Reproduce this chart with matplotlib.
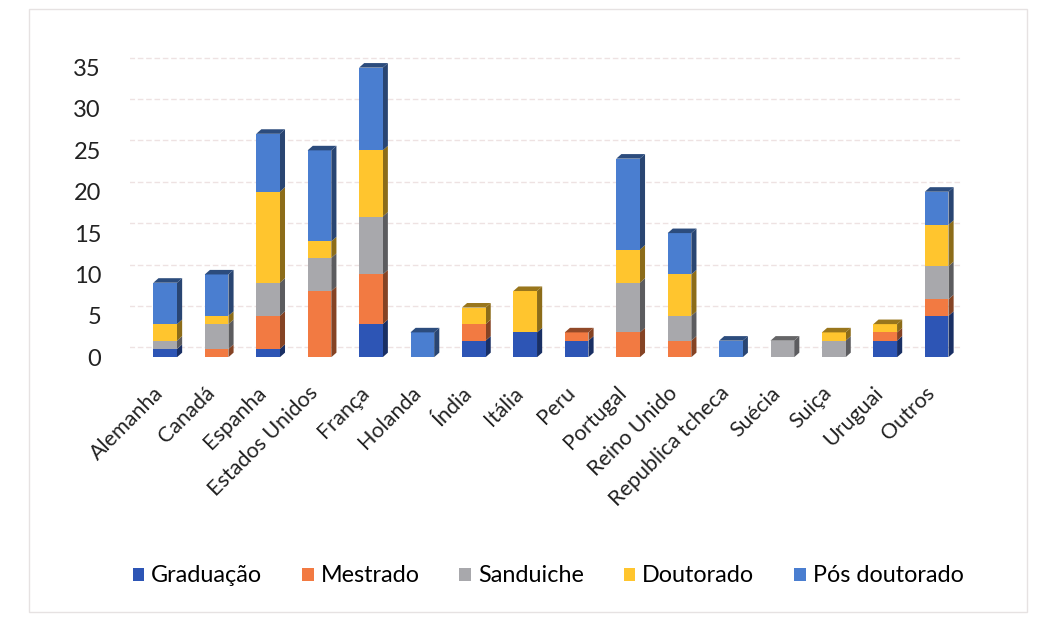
import matplotlib
matplotlib.use("Agg")
import matplotlib.pyplot as plt
from matplotlib.patches import Polygon, Patch
import matplotlib.transforms as mtransforms
import numpy as np

categories = ["Alemanha", "Canadá", "Espanha", "Estados Unidos", "França", "Holanda",
              "Índia", "Itália", "Peru", "Portugal", "Reino Unido", "Republica tcheca",
              "Suécia", "Suiça", "Uruguai", "Outros"]
graduacao    = [1, 0, 1, 0, 4, 0, 2, 3, 2, 0, 0, 0, 0, 0, 2, 5]
mestrado     = [0, 1, 4, 8, 6, 0, 2, 0, 1, 3, 2, 0, 0, 0, 1, 2]
sanduiche    = [1, 3, 4, 4, 7, 0, 0, 0, 0, 6, 3, 0, 2, 2, 0, 4]
doutorado    = [2, 1, 11, 2, 8, 0, 2, 5, 0, 4, 5, 0, 0, 1, 1, 5]
pos_doutorado = [5, 5, 7, 11, 10, 3, 0, 0, 0, 11, 5, 2, 0, 0, 0, 4]

series_names = ["Graduação", "Mestrado", "Sanduiche", "Doutorado", "Pós doutorado"]
series = [graduacao, mestrado, sanduiche, doutorado, pos_doutorado]
colors = ["#2D55B5", "#F27A42", "#A8A8AC", "#FFC52E", "#4A7ED0"]

def darken(c, f):
    r, g, b = matplotlib.colors.to_rgb(c)
    return (r * f, g * f, b * f)

plt.rcParams['font.family'] = ['Lato', 'DejaVu Sans']

fig = plt.figure(figsize=(10.5, 6.18), dpi=100)
ax = fig.add_axes([0.124, 0.422, 0.795, 0.49])

x = np.arange(len(categories))
w = 0.46
ddx = 0.10   # depth in x (data units)
ddy = 0.55   # depth in y (data units)

ax.set_xlim(-0.68, len(categories) - 0.45)
ax.set_ylim(0, 36.6)

# gridlines (back wall, slightly raised)
for v in range(0, 40, 5):
    ax.plot([-0.7, len(categories) - 0.5], [v + 1.2, v + 1.2], color="#eee2e2",
            lw=1.0, ls=(0, (4, 2)), zorder=0)

bottoms = np.zeros(len(categories))
for vals, col in zip(series, colors):
    vals = np.array(vals, dtype=float)
    for i in range(len(categories)):
        if vals[i] <= 0:
            continue
        x1 = x[i] + w / 2
        b = bottoms[i]
        t = b + vals[i]
        ax.add_patch(Polygon([[x1, b], [x1 + ddx, b + ddy], [x1 + ddx, t + ddy], [x1, t]],
                             closed=True, facecolor=darken(col, 0.55), edgecolor='none', zorder=2))
    ax.bar(x, vals, w, bottom=bottoms, color=col, edgecolor='none', zorder=3)
    bottoms += vals

for i in range(len(categories)):
    top_col = colors[0]
    for vals, col in zip(series, colors):
        if vals[i] > 0:
            top_col = col
    x0 = x[i] - w / 2
    x1 = x[i] + w / 2
    t = bottoms[i]
    ax.add_patch(Polygon([[x0, t], [x0 + ddx, t + ddy], [x1 + ddx, t + ddy], [x1, t]],
                         closed=True, facecolor=darken(top_col, 0.6), edgecolor='none', zorder=4))

ax.set_yticks(range(0, 40, 5))
ax.set_yticklabels([str(v) for v in range(0, 40, 5)], fontsize=17, color="#222222")
ax.set_xticks(x)
ax.set_xticklabels(categories, rotation=45, ha='right', rotation_mode='anchor',
                   fontsize=15.5, color="#222222")
ax.tick_params(axis='x', length=0, pad=20)
ax.tick_params(axis='y', length=0, pad=21)
offset = mtransforms.ScaledTranslation(-12 / 100, 2 / 100, fig.dpi_scale_trans)
for lab in ax.get_xticklabels():
    lab.set_transform(lab.get_transform() + offset)
for s in ax.spines.values():
    s.set_visible(False)

handles = [Patch(facecolor=c, edgecolor='none') for c in colors]
fig.legend(handles, series_names, loc='center', bbox_to_anchor=(0.522, 0.068), ncol=5,
           frameon=False, fontsize=16.8, handlelength=0.5, handleheight=0.5,
           handletextpad=0.3, columnspacing=1.7)

fig.add_artist(plt.Rectangle((0.028, 0.01), 0.95, 0.975, transform=fig.transFigure,
                             fill=False, edgecolor="#e6e2e2", lw=1.0))

fig.savefig("out.png", dpi=100)
